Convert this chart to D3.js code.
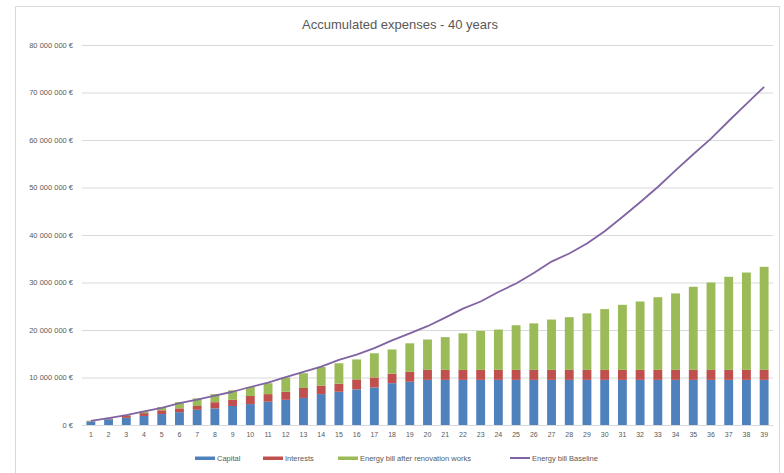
<!DOCTYPE html>
<html>
<head>
<meta charset="utf-8">
<script src="https://cdn.jsdelivr.net/npm/d3@7"></script>
<style>
  html, body { margin: 0; padding: 0; background: #ffffff; }
  svg { display: block; }
  text { font-family: "Liberation Sans", Arial, sans-serif; fill: #595959; }
</style>
</head>
<body>
<svg id="chart" width="784" height="473"></svg>
<script>
// Years 1..39
const years = d3.range(1, 40).map(String);

// Accumulated amounts per year, in euros
const capital = [
  750000, 1200000, 1500000, 1900000, 2300000, 2700000, 3200000, 3500000, 4000000, 4400000,
  4900000, 5300000, 5700000, 6500000, 7000000, 7500000, 7900000, 8800000, 9100000, 9500000,
  9500000, 9500000, 9500000, 9500000, 9500000, 9500000, 9500000, 9500000, 9500000, 9500000,
  9500000, 9500000, 9500000, 9500000, 9500000, 9500000, 9500000, 9500000, 9500000
];
const interests = [
  50000, 150000, 500000, 600000, 800000, 800000, 800000, 1300000, 1300000, 1700000,
  1600000, 1700000, 2100000, 1800000, 1700000, 2100000, 2100000, 2000000, 2100000, 2100000,
  2100000, 2100000, 2100000, 2100000, 2100000, 2100000, 2100000, 2100000, 2100000, 2100000,
  2100000, 2100000, 2100000, 2100000, 2100000, 2100000, 2100000, 2100000, 2100000
];
const energyAfter = [
  100000, 150000, 150000, 400000, 700000, 1300000, 1600000, 1700000, 2000000, 1900000,
  2300000, 3000000, 3100000, 3900000, 4300000, 4200000, 5100000, 5100000, 6000000, 6400000,
  6900000, 7700000, 8200000, 8500000, 9400000, 9800000, 10600000, 11100000, 11900000, 12800000,
  13700000, 14400000, 15300000, 16100000, 17500000, 18400000, 19600000, 20500000, 21700000
];
const energyBaseline = [
  850000, 1450000, 2100000, 2850000, 3600000, 4600000, 5350000, 6200000, 7000000, 8000000,
  8900000, 10100000, 11200000, 12300000, 13700000, 14800000, 16200000, 17800000, 19300000, 20800000,
  22600000, 24500000, 26000000, 28000000, 29800000, 32000000, 34400000, 36100000, 38200000, 40800000,
  43800000, 46900000, 50100000, 53600000, 57000000, 60300000, 64000000, 67600000, 71200000
];
const yTicks = [0, 10000000, 20000000, 30000000, 40000000, 50000000, 60000000, 70000000, 80000000];

const seriesNames = ["Capital", "Interests", "Energy bill after renovation works", "Energy bill Baseline"];
const colors = ["#4f81bd", "#c0504d", "#9bbb59", "#8064a2"];

const svg = d3.select("#chart");

// chart area frame
svg.append("rect")
  .attr("x", 15.5).attr("y", 6.5)
  .attr("width", 764).attr("height", 480)
  .attr("fill", "none").attr("stroke", "#d9d9d9").attr("stroke-width", 1);

// title
svg.append("text")
  .attr("x", 400).attr("y", 29)
  .attr("text-anchor", "middle")
  .style("font-size", "13px")
  .text("Accumulated expenses - 40 years");

const plot = { left: 82, right: 773, top: 45, bottom: 425 };

const x = d3.scaleBand()
  .domain(years)
  .range([plot.left, plot.right])
  .paddingInner(0.5)
  .paddingOuter(0.25);

const y = d3.scaleLinear()
  .domain([0, 80000000])
  .range([plot.bottom, plot.top]);

const fmt = v => d3.format(",")(v).replace(/,/g, " ") + " €";

// y axis with gridlines
const yAxis = d3.axisLeft(y)
  .tickValues(yTicks)
  .tickSize(-(plot.right - plot.left))
  .tickPadding(9)
  .tickFormat(fmt);

const gy = svg.append("g")
  .attr("transform", `translate(${plot.left},0)`)
  .call(yAxis);
gy.select(".domain").remove();
gy.selectAll(".tick line").attr("stroke", "#d9d9d9").attr("stroke-width", 1);
gy.selectAll(".tick text")
  .style("font-size", "7.5px")
  .attr("fill", "#595959");

// stacked bars
const rows = years.map((yr, i) => ({
  year: yr,
  capital: capital[i],
  interests: interests[i],
  energyAfter: energyAfter[i]
}));
const stack = d3.stack().keys(["capital", "interests", "energyAfter"])(rows);

svg.append("g")
  .selectAll("g")
  .data(stack)
  .join("g")
  .attr("fill", (d, i) => colors[i])
  .selectAll("rect")
  .data(d => d)
  .join("rect")
  .attr("x", d => x(d.data.year))
  .attr("width", x.bandwidth())
  .attr("y", d => y(d[1]))
  .attr("height", d => y(d[0]) - y(d[1]));

// x axis
const xAxis = d3.axisBottom(x).tickSize(0).tickPadding(7);
const gx = svg.append("g")
  .attr("transform", `translate(0,${plot.bottom})`)
  .call(xAxis);
gx.select(".domain").attr("stroke", "#d9d9d9");
gx.selectAll(".tick text")
  .style("font-size", "7px")
  .attr("fill", "#595959");

// baseline energy bill line
const line = d3.line()
  .x((d, i) => x(years[i]) + x.bandwidth() / 2)
  .y(d => y(d));

svg.append("path")
  .datum(energyBaseline)
  .attr("fill", "none")
  .attr("stroke", colors[3])
  .attr("stroke-width", 1.8)
  .attr("stroke-linejoin", "round")
  .attr("d", line);

// legend
const legendItems = [
  { name: seriesNames[0], color: colors[0], x: 195 },
  { name: seriesNames[1], color: colors[1], x: 263 },
  { name: seriesNames[2], color: colors[2], x: 338 },
  { name: seriesNames[3], color: colors[3], x: 510 }
];
const lg = svg.append("g").attr("transform", "translate(0,458)");
legendItems.forEach((it, i) => {
  if (i < 3) {
    lg.append("rect")
      .attr("x", it.x).attr("y", -1.5)
      .attr("width", 20).attr("height", 3.5)
      .attr("fill", it.color);
  } else {
    lg.append("line")
      .attr("x1", it.x).attr("x2", it.x + 20)
      .attr("y1", 0).attr("y2", 0)
      .attr("stroke", it.color).attr("stroke-width", 2);
  }
  lg.append("text")
    .attr("x", it.x + 22)
    .attr("y", 2.8)
    .style("font-size", "7.5px")
    .text(it.name);
});
</script>
</body>
</html>
